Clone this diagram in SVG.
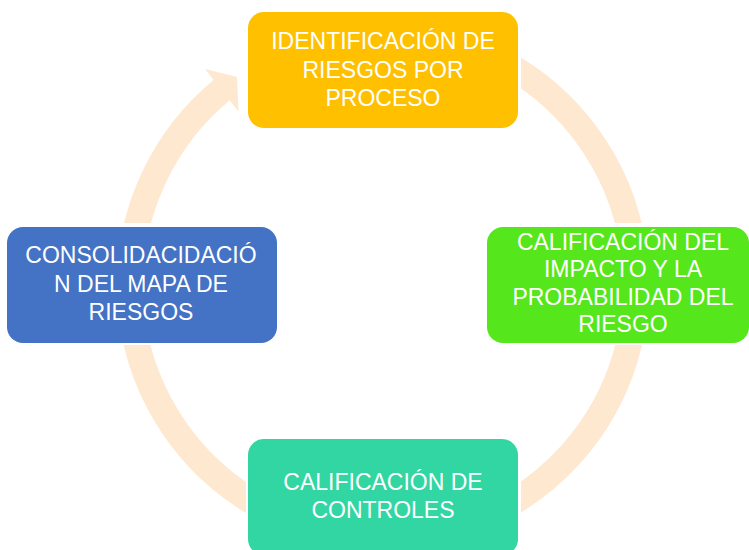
<svg xmlns="http://www.w3.org/2000/svg" width="749" height="550" viewBox="0 0 749 550">
  <style>
    .lbl { font-family: "Liberation Sans", Arial, sans-serif; font-size: 23px; fill: #FFFFFF; text-anchor: middle; }
    .ring { fill: none; stroke: #FEE8CF; stroke-width: 26; }
  </style>
  <defs>
    <mask id="gaps" maskUnits="userSpaceOnUse" x="0" y="0" width="749" height="550">
      <rect x="0" y="0" width="749" height="550" fill="#fff"/>
      <rect x="244" y="0" width="277" height="131" fill="#000"/>
      <rect x="484" y="223" width="265" height="122" fill="#000"/>
      <rect x="246" y="436" width="275" height="114" fill="#000"/>
      <rect x="4" y="223" width="276" height="122" fill="#000"/>
    </mask>
  </defs>
  <rect x="0" y="0" width="749" height="550" fill="#FFFFFF"/>
  <g id="connectors" mask="url(#gaps)">
    <path class="ring" d="M383,32 A253,253 0 1 1 222.1,89.7"/>
    <polygon points="205,69 237,77 238.5,111.5" fill="#FEE8CF"/>
  </g>
  <g id="node-identificacion">
    <rect x="248" y="12" width="270" height="116" rx="16" fill="#FFC000"/>
    <text class="lbl" x="383" y="49">IDENTIFICACIÓN DE</text>
    <text class="lbl" x="383" y="78">RIESGOS POR</text>
    <text class="lbl" x="383" y="106">PROCESO</text>
  </g>
  <g id="node-calificacion-impacto">
    <rect x="487" y="227" width="262" height="116" rx="16" fill="#55E61C"/>
    <text class="lbl" x="623" y="250">CALIFICACIÓN DEL</text>
    <text class="lbl" x="623" y="277">IMPACTO Y LA</text>
    <text class="lbl" x="623" y="305">PROBABILIDAD DEL</text>
    <text class="lbl" x="623" y="332">RIESGO</text>
  </g>
  <g id="node-calificacion-controles">
    <rect x="248" y="439" width="270" height="116" rx="16" fill="#31D6A2"/>
    <text class="lbl" x="383" y="490">CALIFICACIÓN DE</text>
    <text class="lbl" x="383" y="518">CONTROLES</text>
  </g>
  <g id="node-consolidacion">
    <rect x="7" y="227" width="270" height="116" rx="16" fill="#4472C4"/>
    <text class="lbl" x="141" y="263">CONSOLIDACIDACIÓ</text>
    <text class="lbl" x="141" y="292">N DEL MAPA DE</text>
    <text class="lbl" x="141" y="320">RIESGOS</text>
  </g>
</svg>
